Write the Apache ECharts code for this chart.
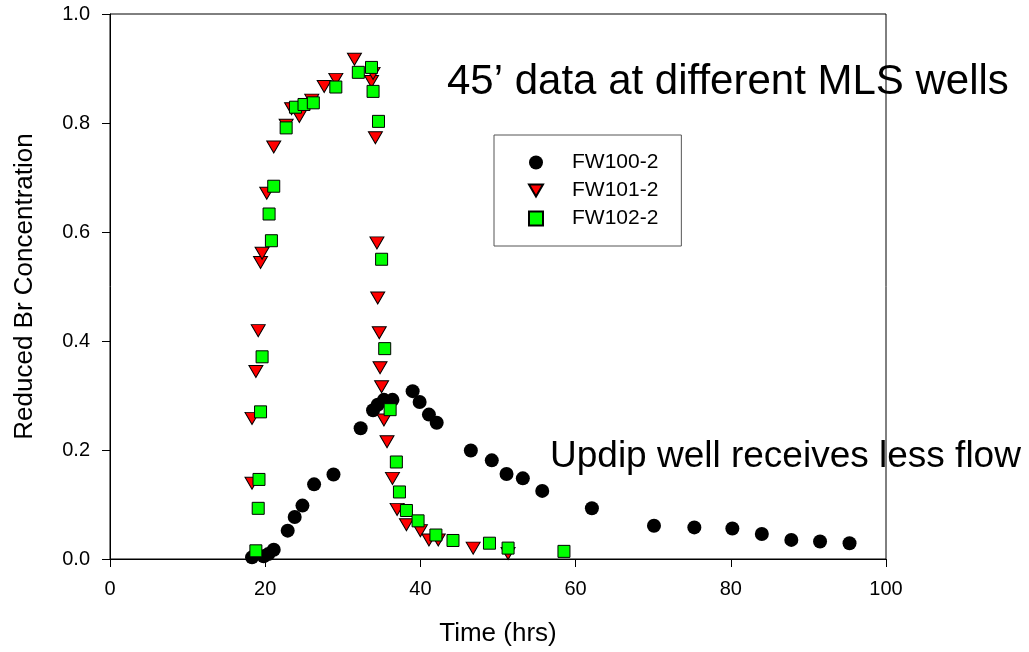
<!DOCTYPE html>
<html>
<head>
<meta charset="utf-8">
<script src="https://cdn.jsdelivr.net/npm/echarts@6/dist/echarts.min.js"></script>
<style>
  html, body { margin: 0; padding: 0; background: #fff; }
  #chart { width: 1029px; height: 652px; }
</style>
</head>
<body>
<div id="chart"></div>
<script>
let fw100X = [18.3, 19.8, 20.4, 21.1, 22.9, 23.8, 24.8, 26.3, 28.8, 32.3, 33.9, 34.5, 35.3, 36.4, 39.0, 39.9, 41.1, 42.1, 46.5, 49.2, 51.1, 53.2, 55.7, 62.1, 70.1, 75.3, 80.2, 84.0, 87.8, 91.5, 95.3];
let fw100Y = [0.003, 0.005, 0.009, 0.017, 0.052, 0.077, 0.098, 0.137, 0.155, 0.240, 0.273, 0.283, 0.292, 0.292, 0.308, 0.288, 0.265, 0.250, 0.199, 0.181, 0.156, 0.148, 0.125, 0.093, 0.061, 0.058, 0.056, 0.046, 0.035, 0.032, 0.029];

let fw101X = [18.3, 18.3, 18.8, 19.1, 19.4, 19.6, 20.2, 21.1, 22.7, 23.4, 24.4, 26.0, 27.6, 29.1, 31.5, 33.7, 33.9, 34.2, 34.4, 34.5, 34.7, 34.8, 35.0, 35.3, 35.7, 36.4, 37.0, 38.2, 40.0, 41.1, 42.3, 46.8, 51.3];
let fw101Y = [0.258, 0.139, 0.344, 0.419, 0.544, 0.561, 0.671, 0.756, 0.796, 0.826, 0.812, 0.842, 0.867, 0.880, 0.917, 0.876, 0.891, 0.773, 0.580, 0.479, 0.415, 0.351, 0.316, 0.255, 0.215, 0.148, 0.091, 0.063, 0.052, 0.035, 0.035, 0.020, 0.010];

let fw102X = [18.8, 19.1, 19.2, 19.4, 19.6, 20.5, 20.8, 21.1, 22.7, 23.9, 25.0, 26.2, 29.1, 32.0, 33.7, 33.9, 34.6, 35.0, 35.4, 36.1, 36.9, 37.3, 38.2, 39.7, 42.0, 44.2, 48.9, 51.3, 58.5];
let fw102Y = [0.015, 0.093, 0.146, 0.270, 0.371, 0.633, 0.584, 0.684, 0.791, 0.829, 0.834, 0.837, 0.866, 0.893, 0.902, 0.858, 0.803, 0.550, 0.386, 0.274, 0.178, 0.123, 0.089, 0.070, 0.044, 0.034, 0.029, 0.020, 0.014];

let xTicks = [0, 20, 40, 60, 80, 100];
let yTicks = [0.0, 0.2, 0.4, 0.6, 0.8, 1.0];

let fontName = '"Liberation Sans", Arial, sans-serif';
let downTriangle = 'path://M0,0L14,0L7,12Z';

function pairs(xs, ys) {
  return xs.map((x, i) => [x, ys[i]]);
}

let chart = echarts.init(document.getElementById('chart'), null, { renderer: 'canvas' });

let option = {
  animation: false,
  backgroundColor: '#ffffff',
  textStyle: { fontFamily: fontName, color: '#000' },
  grid: {
    left: 110,
    right: 143,
    top: 14,
    bottom: 91,
    show: true,
    borderColor: '#000',
    borderWidth: 1
  },
  xAxis: {
    type: 'value',
    min: 0,
    max: 100,
    interval: 20,
    name: 'Time (hrs)',
    nameLocation: 'middle',
    nameGap: 62,
    nameTextStyle: { fontSize: 26, fontFamily: fontName, color: '#000' },
    axisLine: { show: true, onZero: false, lineStyle: { color: '#000', width: 1 } },
    axisTick: { show: true, inside: false, length: 8, lineStyle: { color: '#000' } },
    axisLabel: {
      fontSize: 20,
      fontFamily: fontName,
      color: '#000',
      margin: 20,
      formatter: v => xTicks.includes(v) ? String(v) : ''
    },
    splitLine: { show: false }
  },
  yAxis: {
    type: 'value',
    min: 0,
    max: 1,
    interval: 0.2,
    name: 'Reduced Br Concentration',
    nameLocation: 'middle',
    nameGap: 72,
    nameTextStyle: { fontSize: 26, fontFamily: fontName, color: '#000' },
    axisLine: { show: true, onZero: false, lineStyle: { color: '#000', width: 1 } },
    axisTick: { show: true, inside: false, length: 8, lineStyle: { color: '#000' } },
    axisLabel: {
      fontSize: 20,
      fontFamily: fontName,
      color: '#000',
      margin: 20,
      formatter: v => {
        let t = yTicks.find(k => Math.abs(k - v) < 1e-6);
        return t === undefined ? '' : t.toFixed(1);
      }
    },
    splitLine: { show: false }
  },
  legend: {
    orient: 'vertical',
    left: 494,
    top: 135,
    padding: [17, 23, 17, 34],
    itemGap: 7,
    itemWidth: 14,
    itemHeight: 14,
    borderColor: '#555',
    borderWidth: 1,
    backgroundColor: '#fff',
    textStyle: { fontSize: 21, fontFamily: fontName, color: '#000', lineHeight: 21, padding: [0, 0, 0, 24] },
    data: [
      { name: 'FW100-2', icon: 'circle' },
      { name: 'FW101-2', icon: downTriangle },
      { name: 'FW102-2', icon: 'rect' }
    ]
  },
  series: [
    {
      name: 'FW100-2',
      type: 'scatter',
      symbol: 'circle',
      symbolSize: 14,
      itemStyle: { color: '#000', borderColor: '#000', borderWidth: 0, opacity: 1 },
      data: pairs(fw100X, fw100Y)
    },
    {
      name: 'FW101-2',
      type: 'scatter',
      symbol: downTriangle,
      symbolSize: [14, 12],
      itemStyle: { color: '#ff0000', borderColor: '#000', borderWidth: 1, opacity: 1 },
      data: pairs(fw101X, fw101Y)
    },
    {
      name: 'FW102-2',
      type: 'scatter',
      symbol: 'rect',
      symbolSize: 12,
      itemStyle: { color: '#00ff00', borderColor: '#000', borderWidth: 1, opacity: 1 },
      data: pairs(fw102X, fw102Y)
    }
  ],
  graphic: [
    {
      type: 'text',
      left: 447,
      top: 61,
      z: 100,
      style: {
        text: '45’ data at different MLS wells',
        font: '42px ' + fontName,
        fill: '#000'
      }
    },
    {
      type: 'text',
      left: 550,
      top: 438,
      z: 100,
      style: {
        text: 'Updip well receives less flow',
        font: '37px ' + fontName,
        fill: '#000'
      }
    }
  ]
};

chart.setOption(option);
</script>
</body>
</html>
